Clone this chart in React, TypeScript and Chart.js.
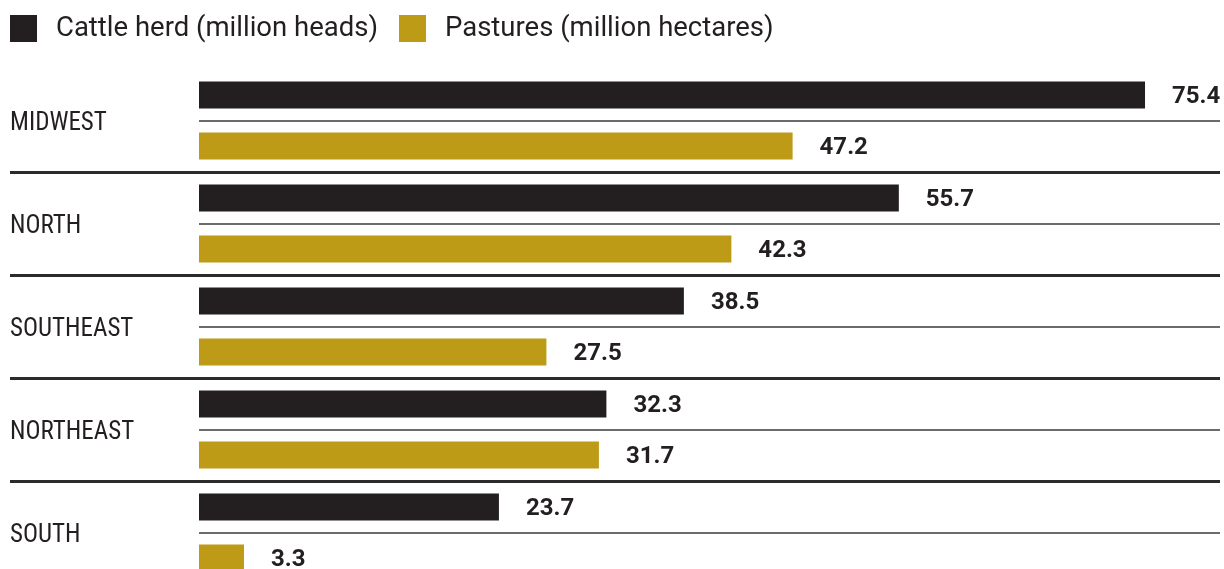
import React, { useEffect, useRef } from "react";
import { Chart, registerables } from "chart.js";

Chart.register(...registerables);

const regions = ["MIDWEST", "NORTH", "SOUTHEAST", "NORTHEAST", "SOUTH"];
const cattleHerd = [75.4, 55.7, 38.5, 32.3, 23.7];
const pastures = [47.2, 42.3, 27.5, 31.7, 3.3];
const seriesLabels = ["Cattle herd (million heads)", "Pastures (million hectares)"];

const INK = "#231f20";
const GOLD = "#bd9b17";

const valueLabelPlugin = {
  id: "valueLabels",
  afterDatasetsDraw(chart: any) {
    const ctx = chart.ctx;
    ctx.save();
    ctx.font = "bold 24px Roboto, 'Liberation Sans', sans-serif";
    ctx.fillStyle = INK;
    ctx.textAlign = "left";
    ctx.textBaseline = "middle";
    chart.data.datasets.forEach((ds: any, di: number) => {
      const meta = chart.getDatasetMeta(di);
      meta.data.forEach((el: any, i: number) => {
        const v = ds.data[i];
        ctx.fillText(Number(v).toFixed(1), el.x + 27, el.y + 2);
      });
    });
    ctx.restore();
  },
};

const legendPlugin = {
  id: "customLegend",
  afterDraw(chart: any) {
    const ctx = chart.ctx;
    ctx.save();
    ctx.font = "27.5px Roboto, 'Liberation Sans', sans-serif";
    ctx.textBaseline = "middle";
    ctx.textAlign = "left";
    let x = 10;
    const top = 15;
    const box = 27;
    chart.data.datasets.forEach((ds: any) => {
      ctx.fillStyle = ds.backgroundColor;
      ctx.fillRect(x, top, box, box);
      x += box + 19;
      ctx.fillStyle = INK;
      ctx.fillText(ds.label, x, top + box / 2 + 1);
      x += ctx.measureText(ds.label).width + 21;
    });
    ctx.restore();
  },
};

export default function App() {
  const ref = useRef<HTMLCanvasElement | null>(null);

  useEffect(() => {
    if (!ref.current) return;
    const chart = new Chart(ref.current, {
      type: "bar",
      data: {
        labels: regions,
        datasets: [
          {
            label: seriesLabels[0],
            data: cattleHerd,
            backgroundColor: INK,
            base: -0.3,
            categoryPercentage: 0.99,
            barPercentage: 0.53,
          },
          {
            label: seriesLabels[1],
            data: pastures,
            backgroundColor: GOLD,
            base: -0.3,
            categoryPercentage: 0.99,
            barPercentage: 0.53,
          },
        ],
      },
      options: {
        indexAxis: "y",
        responsive: false,
        animation: false,
        devicePixelRatio: 1,
        events: [],
        layout: { padding: { top: 69, left: 10, right: 4, bottom: 6 } },
        plugins: {
          legend: { display: false },
          tooltip: { enabled: false },
        },
        scales: {
          x: {
            display: false,
            min: -0.3,
            max: 81.4,
          },
          y: {
            type: "category",
            position: "left",
            offset: true,
            afterFit: (s: any) => {
              s.width = 189;
              s.paddingTop = 0;
              s.paddingBottom = 0;
            },
            border: { display: false },
            grid: {
              offset: true,
              lineWidth: 3,
              tickLength: 189,
              color: (c: any) => (c.index === 0 ? "rgba(0,0,0,0)" : "#2b2b2b"),
            },
            ticks: {
              crossAlign: "far",
              labelOffset: 3,
              color: INK,
              font: { family: "'Roboto Condensed', Roboto, sans-serif", size: 25 },
            },
          },
          y2: {
            type: "category",
            position: "left",
            offset: true,
            afterFit: (s: any) => {
              s.width = 0;
              s.paddingTop = 0;
              s.paddingBottom = 0;
            },
            border: { display: false },
            grid: {
              offset: false,
              drawTicks: false,
              lineWidth: 2,
              color: "#6b6b6b",
            },
            ticks: { display: false },
          },
        },
      },
      plugins: [valueLabelPlugin, legendPlugin],
    } as any);
    return () => chart.destroy();
  }, []);

  return (
    <div
      style={{
        position: "fixed",
        left: 0,
        top: 0,
        width: 1224,
        height: 569,
        overflow: "hidden",
        background: "#fff",
      }}
    >
      <canvas ref={ref} width={1224} height={590} style={{ width: 1224, height: 590, display: "block" }} />
    </div>
  );
}
